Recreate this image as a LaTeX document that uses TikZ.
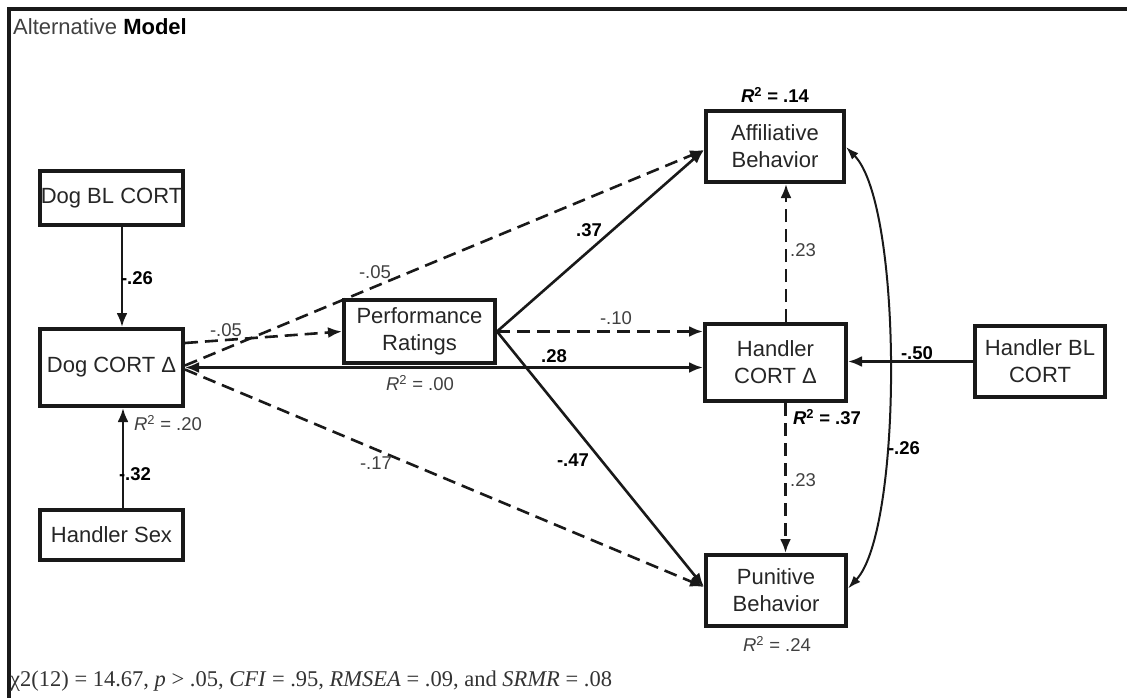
\documentclass[tikz,border=0pt]{standalone}
\usepackage{fontspec}
\setmainfont{Liberation Sans}
\newfontfamily\footfont{Liberation Serif}
\usetikzlibrary{arrows.meta,calc}
\begin{document}
\begin{tikzpicture}[x=1pt,y=-1pt,
  box/.style={draw=black!90,line width=4pt,align=center,inner sep=0pt,
    font=\fontsize{22}{27}\selectfont,text=black!85},
  lab/.style={font=\fontsize{18.5}{20}\selectfont,text=black!75,inner sep=0pt},
  blab/.style={font=\fontsize{18.5}{20}\selectfont\bfseries,text=black,inner sep=0pt},
  tip/.style={-{Latex[length=14pt,width=11pt]}},
  sol/.style={line width=2.6pt,draw=black!90},
  dsh/.style={line width=2.6pt,draw=black!90,dash pattern=on 13pt off 7pt},
]
\useasboundingbox (0,0) rectangle (1127,698);
\fill[white] (0,0) rectangle (1127,698);
% frame
\draw[line width=4pt,black!90] (9,698) -- (9,9) -- (1127,9);
\node[anchor=west,inner sep=0pt,font=\fontsize{22}{26}\selectfont] (title) at (13,27)
  {\textcolor{black!75}{Alternative} \textbf{Model}};

% boxes
\node[box,minimum width=143pt,minimum height=54pt] (dogbl) at (111.5,198) {Dog BL CORT};
\node[box,minimum width=143pt,minimum height=77pt] (dogcort) at (111.5,367.5) {Dog CORT Δ};
\node[box,minimum width=143pt,minimum height=50pt] (hsex) at (111.5,535) {Handler Sex};
\node[box,minimum width=151pt,minimum height=63pt] (perf) at (419.5,331.5) {Performance\\Ratings};
\node[box,minimum width=138pt,minimum height=71pt] (affil) at (775,146.5) {Affiliative\\Behavior};
\node[box,minimum width=141pt,minimum height=77pt] (hcort) at (775.5,362.5) {Handler\\CORT Δ};
\node[box,minimum width=130pt,minimum height=71pt] (hbl) at (1040,361.5) {Handler BL\\CORT};
\node[box,minimum width=140pt,minimum height=71pt] (punit) at (776,590.5) {Punitive\\Behavior};

% connectors
\draw[sol,tip] ([xshift=10.5pt]dogbl.south) -- ([xshift=10.5pt]dogcort.north);
\draw[sol,tip] ([xshift=11.5pt]hsex.north) -- ([xshift=11.5pt]dogcort.south);
\draw[dsh,tip] ([yshift=24.5pt]dogcort.east) -- (perf.west);
\draw[dsh,tip] ([yshift=2pt]dogcort.east) -- ([yshift=-3.5pt]affil.west);
\draw[dsh,tip] ([yshift=-2pt]dogcort.east) -- ([yshift=3.5pt]punit.west);
\draw[sol,{Latex[length=14pt,width=11pt]}-{Latex[length=14pt,width=11pt]}] (dogcort.east) -- (dogcort.east -| hcort.west);
\draw[dsh,tip] (perf.east) -- (perf.east -| hcort.west);
\draw[sol,tip] (perf.east) -- ([yshift=-3.5pt]affil.west);
\draw[sol,tip] (perf.east) -- ([yshift=3.5pt]punit.west);
\draw[dsh,tip] ([xshift=10.5pt]hcort.north) -- ([xshift=11pt]affil.south);
\draw[dsh,tip] ([xshift=10pt]hcort.south) -- ([xshift=9.5pt]punit.north);
\draw[sol,tip] (hbl.west) -- (hbl.west -| hcort.east);
\draw[line width=2pt,black!90,{Latex[length=13pt,width=9pt]}-{Latex[length=13pt,width=9pt]}]
  ([yshift=-0.5pt]affil.east) .. controls (903,205) and (903,530) .. ([yshift=2pt]punit.east);

% labels
\node[blab] (r14) at (775,95) {\textit{R}\textsuperscript{2} = .14};
\node[blab] (r37) at (827,417) {\textit{R}\textsuperscript{2} = .37};
\node[lab] (r24) at (777,644) {\textit{R}\textsuperscript{2} = .24};
\node[lab] (r00) at (420,383) {\textit{R}\textsuperscript{2} = .00};
\node[lab] (r20) at (168,423) {\textit{R}\textsuperscript{2} = .20};
\node[blab] (l26a) at (137,278) {-.26};
\node[blab] (l32) at (135,474) {-.32};
\node[lab] (l05a) at (226,330) {-.05};
\node[lab] (l05b) at (375,272) {-.05};
\node[lab] (l17) at (376,463) {-.17};
\node[blab] (l37) at (589,230) {.37};
\node[lab] (l10) at (616,318) {-.10};
\node[blab] (l28) at (554,356) {.28};
\node[blab] (l47) at (573,460) {-.47};
\node[lab] (l23a) at (803,250) {.23};
\node[lab] (l23b) at (803,480) {.23};
\node[blab] (l50) at (917,353) {-.50};
\node[blab] (l26b) at (904,448) {-.26};

% footer
\node[anchor=west,inner sep=0pt,font=\footfont\fontsize{22.5}{25}\selectfont,text=black!80] (fit) at (10,681)
  {χ2(12) = 14.67, \textit{p} > .05, \textit{CFI} = .95, \textit{RMSEA} = .09, and \textit{SRMR} = .08};
\end{tikzpicture}
\end{document}
